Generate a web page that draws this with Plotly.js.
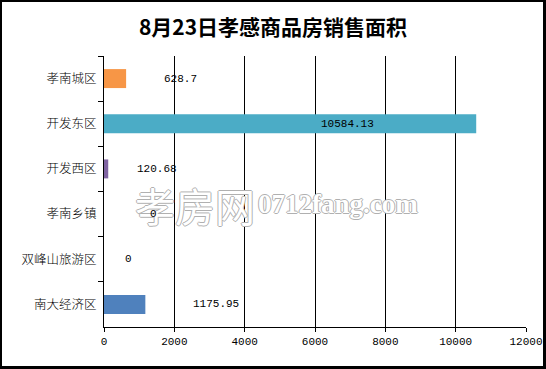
<!DOCTYPE html>
<html>
<head>
<meta charset="utf-8">
<script src="https://cdn.plot.ly/plotly-3.0.1.min.js"></script>
<style>
html,body{margin:0;padding:0;background:#fff;}
#wrap{position:relative;width:546px;height:369px;}
#chart{position:absolute;left:0;top:0;width:546px;height:369px;}
#frame{position:absolute;left:0;top:0;width:541px;height:364px;border-style:solid;border-color:#000;border-width:2px 3px 3px 2px;pointer-events:none;}
</style>
</head>
<body>
<div id="wrap"><div id="chart"></div><div id="frame"></div></div>
<script>
var titleText = "8月23日孝感商品房销售面积";
var categories = ["孝南城区", "开发东区", "开发西区", "孝南乡镇", "双峰山旅游区", "南大经济区"];
var values = [628.7, 10584.13, 120.68, 0, 0, 1175.95];
var labels = ["628.7", "10584.13", "120.68", "0", "0", "1175.95"];
var xTicks = [0, 2000, 4000, 6000, 8000, 10000, 12000];

var barColors = ["#F79646", "#4BACC6", "#8064A2", "#9BBB59", "#C0504D", "#4F81BD"];
var labelShift = [54, -129, 49, 49, 24, 71];

var trace = {
  type: "bar",
  orientation: "h",
  y: categories,
  x: values,
  marker: {color: barColors, line: {width: 0}},
  hoverinfo: "none"
};

var outline = "1px 0 0 #b0b0b0, -1px 0 0 #b0b0b0, 0 1px 0 #b0b0b0, 0 -1px 0 #b0b0b0";
var annotations = [];
annotations.push({
  xref: "paper", yref: "paper", x: 0.068, y: 0.45, xanchor: "left", yanchor: "middle",
  text: "孝房网", showarrow: false,
  font: {family: "Noto Sans CJK SC", size: 40, color: "#ffffff", shadow: outline}
});
annotations.push({
  xref: "paper", yref: "paper", x: 0.36, y: 0.455, xanchor: "left", yanchor: "middle",
  text: "0712fang.com", showarrow: false,
  font: {family: "Liberation Serif", size: 27, weight: 700, color: "#ffffff", shadow: outline}
});
categories.forEach(function (c, i) {
  annotations.push({
    x: values[i], y: c, xref: "x", yref: "y",
    text: labels[i], showarrow: false, xanchor: "center", yanchor: "middle",
    xshift: labelShift[i],
    font: {family: "Liberation Mono, DejaVu Sans Mono, monospace", size: 11, color: "#000"}
  });
});

var layout = {
  width: 546, height: 369,
  margin: {l: 104, r: 20, t: 56, b: 42, pad: 0},
  paper_bgcolor: "#fff", plot_bgcolor: "#fff",
  showlegend: false,
  bargap: 0.58,
  title: {
    text: titleText, x: 0.5, xanchor: "center", y: 0.925, yanchor: "middle",
    font: {family: "Noto Sans CJK SC", size: 21, weight: 700, color: "#000"}
  },
  xaxis: {
    range: [0, 12000], tickvals: xTicks, ticktext: xTicks.map(String),
    showgrid: true, gridcolor: "#000", gridwidth: 1,
    showline: true, linecolor: "#000", linewidth: 1,
    ticks: "outside", ticklen: 4, tickcolor: "#000",
    zeroline: false, fixedrange: true,
    tickfont: {family: "Liberation Mono, DejaVu Sans Mono, monospace", size: 11, color: "#000"}
  },
  yaxis: {
    type: "category", autorange: "reversed",
    showline: true, linecolor: "#000", linewidth: 1,
    ticks: "outside", ticklen: 5, tickcolor: "#000", tickson: "boundaries",
    ticklabelstandoff: 4,
    showgrid: false, zeroline: false, fixedrange: true,
    tickfont: {family: "Noto Sans CJK SC", size: 12.5, weight: 300, color: "#000"}
  },
  annotations: annotations
};

Plotly.newPlot("chart", [trace], layout, {displayModeBar: false, staticPlot: true});
</script>
</body>
</html>
